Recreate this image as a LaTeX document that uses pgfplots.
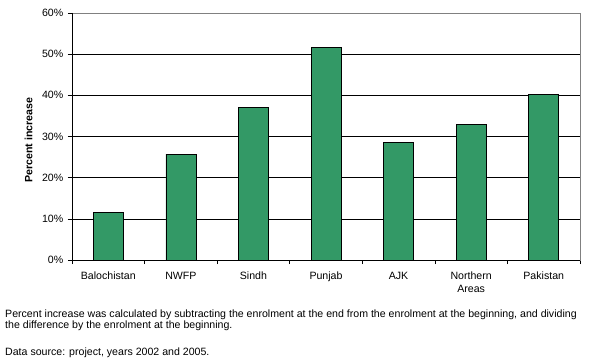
\documentclass[border=0pt]{standalone}
\usepackage{pgfplots}
\pgfplotsset{compat=1.18}
\usepackage{fontspec}
\setmainfont{Liberation Sans}
\definecolor{bargreen}{RGB}{51,153,102}
\newcommand\fs{\fontsize{10.6bp}{12bp}\selectfont}
\begin{document}
\fs
\begin{tikzpicture}[x=1bp,y=1bp]
\useasboundingbox (-72,-103) rectangle (521,260);
\begin{axis}[
  at={(0,0)}, anchor=south west,
  scale only axis, width=508bp, height=247bp,
  xmin=-0.5, xmax=6.5, ymin=0, ymax=60,
  axis line style={draw=gray, line width=0.8pt},
  xtick={0,...,6},
  xticklabels={Balochistan,NWFP,Sindh,Punjab,AJK,{Northern\\Areas},Pakistan},
  xticklabel style={align=center, font=\fontsize{10.6bp}{13.5bp}\selectfont, yshift=-4bp},
  major x tick style={draw=none},
  minor xtick={-0.5,0.5,...,6.5},
  minor x tick style={draw=black, line width=0.6pt},
  minor tick length=4bp,
  ytick={0,10,...,60},
  yticklabel={\pgfmathprintnumber{\tick}\%},
  yticklabel style={font=\fs, xshift=-1bp},
  major y tick style={draw=black, line width=0.6pt},
  major tick length=4bp,
  tick align=outside,
  tick pos=left,
  extra y ticks={10,20,30,40,50},
  extra y tick labels={},
  extra y tick style={grid=major, major grid style={black, line width=0.6pt}, major tick length=4bp},
  /pgf/number format/assume math mode=true,
  clip=false,
]
\addplot[ybar, bar width=30bp, fill=bargreen, draw=black, line width=0.6pt]
  coordinates {(0,11.6) (1,25.7) (2,37.1) (3,51.7) (4,28.6) (5,33.0) (6,40.2)};
\draw[black, line width=0.8pt] (rel axis cs:0,1) -- (rel axis cs:0,0) -- (rel axis cs:1,0);
\end{axis}
\node[rotate=90, font=\fs\bfseries, inner sep=0] at (-43.5,120) {Percent increase};
\node[anchor=base west, inner sep=0] at (-67,-57) {Percent increase was calculated by subtracting the enrolment at the end from the enrolment at the beginning, and dividing};
\node[anchor=base west, inner sep=0] at (-67,-68) {the difference by the enrolment at the beginning.};
\node[anchor=base west, inner sep=0] at (-67,-95) {Data source: project, years 2002 and 2005.};
\end{tikzpicture}
\end{document}
